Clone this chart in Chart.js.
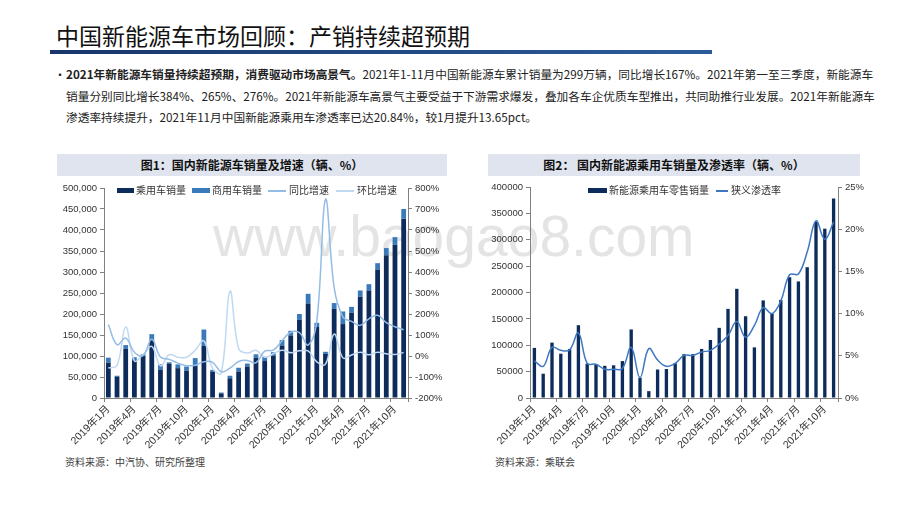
<!DOCTYPE html>
<html>
<head>
<meta charset="utf-8">
<script src="https://cdn.jsdelivr.net/npm/chart.js@4.4.1/dist/chart.umd.min.js"></script>
<style>
body{margin:0;width:920px;height:518px;background:#fff;position:relative;overflow:hidden;font-family:"Noto Sans CJK SC","Liberation Sans",sans-serif;}
.abs{position:absolute;white-space:nowrap;}
#title{left:56px;top:19px;font-size:23px;line-height:32px;color:#111;}
#rule{left:50px;top:50px;width:662px;height:4px;background:linear-gradient(90deg,#18366a,#2b5c9a);}
.para{left:66px;font-size:11.7px;line-height:16px;color:#222;}
#bullet{left:54px;top:66px;font-size:12px;color:#222;}
.head{top:154px;height:22px;line-height:22px;background:#dfe4ef;text-align:center;font-size:12px;font-weight:bold;color:#111;}
.src{top:454px;font-size:10px;color:#404040;}
#wm{left:213px;top:208px;font-family:"Liberation Sans",sans-serif;font-size:57px;line-height:57px;color:#e4e4e4;z-index:0;}
canvas{position:absolute;z-index:1;}
.leg{font-size:10px;color:#333;line-height:12px;z-index:2;}
.sw{position:absolute;z-index:2;}
</style>
</head>
<body>
<div id="title" class="abs">中国新能源车市场回顾：产销持续超预期</div>
<div id="rule" class="abs"></div>
<div id="bullet" class="abs">•</div>
<div class="abs para" style="top:66px"><b>2021年新能源车销量持续超预期，消费驱动市场高景气。</b>2021年1-11月中国新能源车累计销量为299万辆，同比增长167%。2021年第一至三季度，新能源车</div>
<div class="abs para" style="top:88px">销量分别同比增长384%、265%、276%。2021年新能源车高景气主要受益于下游需求爆发，叠加各车企优质车型推出，共同助推行业发展。2021年新能源车</div>
<div class="abs para" style="top:109px">渗透率持续提升，2021年11月中国新能源乘用车渗透率已达20.84%，较1月提升13.65pct。</div>

<div class="abs head" style="left:57px;width:390px">图1：国内新能源车销量及增速（辆、%）</div>
<div class="abs head" style="left:488px;width:372px">图2：&nbsp;国内新能源乘用车销量及渗透率（辆、%）</div>

<div id="wm" class="abs">www.baogao8.com</div>

<canvas id="c1" width="392" height="280" style="left:57px;top:178px;width:392px;height:280px"></canvas>
<canvas id="c2" width="380" height="280" style="left:487px;top:178px;width:380px;height:280px"></canvas>

<div class="sw" style="left:117px;top:188px;width:17px;height:5px;background:#0d2c5b"></div>
<div class="abs leg" style="left:136px;top:184px">乘用车销量</div>
<div class="sw" style="left:192px;top:188px;width:18px;height:5px;background:#3a79ba"></div>
<div class="abs leg" style="left:212px;top:184px">商用车销量</div>
<div class="sw" style="left:268px;top:190px;width:18px;height:1.5px;background:#94bde6"></div>
<div class="abs leg" style="left:289px;top:184px">同比增速</div>
<div class="sw" style="left:336px;top:190px;width:18px;height:1.5px;background:#c0d9f0"></div>
<div class="abs leg" style="left:357px;top:184px">环比增速</div>

<div class="sw" style="left:588px;top:188px;width:19px;height:5px;background:#0d2c5b"></div>
<div class="abs leg" style="left:609px;top:184px">新能源乘用车零售销量</div>
<div class="sw" style="left:716px;top:190px;width:12px;height:1.5px;background:#3e78c2"></div>
<div class="abs leg" style="left:731px;top:184px">狭义渗透率</div>

<div class="abs src" style="left:65px">资料来源：中汽协、研究所整理</div>
<div class="abs src" style="left:495px">资料来源：乘联会</div>

<script>
var months = [
  '2019年1月','2019年2月','2019年3月','2019年4月','2019年5月','2019年6月','2019年7月','2019年8月','2019年9月','2019年10月','2019年11月','2019年12月',
  '2020年1月','2020年2月','2020年3月','2020年4月','2020年5月','2020年6月','2020年7月','2020年8月','2020年9月','2020年10月','2020年11月','2020年12月',
  '2021年1月','2021年2月','2021年3月','2021年4月','2021年5月','2021年6月','2021年7月','2021年8月','2021年9月','2021年10月','2021年11月'
];

// 图1 (中汽协)
var passengerSales = [84000,50000,117000,90000,100000,138000,67000,81000,71000,65000,76000,124000,
  63000,11000,47000,63000,75000,96000,88000,101000,125000,149000,186000,225000,
  169000,105000,212000,176000,203000,241000,256000,306000,340000,365000,427000];
var commercialSales = [12000,3000,9000,7000,4000,14000,13000,4000,9000,10000,19000,39000,
  4000,2000,6000,9000,7000,8000,10000,8000,13000,11000,14000,23000,
  10000,5000,14000,30000,14000,15000,15000,15000,17000,18000,23000];
var yoyGrowth = [150,54,85,18,2,80,-5,-16,-34,-46,-44,-27,
  -30,-75,-58,-26,-21,-32,23,28,73,113,111,52,
  167,746,326,186,165,146,177,194,159,139,125];
var momGrowth = [-57,-45,138,-23,7,46,-47,6,-6,-6,27,72,
  -59,-81,308,36,14,27,-6,11,27,16,25,24,
  -28,-39,105,-9,5,18,6,18,11,7,17];

// 图2 (乘联会)
var retailSales = [95000,46000,105000,84000,93000,138000,65000,64000,61000,62000,70000,130000,
  38000,13000,54000,55000,66000,83000,83000,93000,110000,133000,169000,207000,
  155000,96000,185000,160000,186000,229000,221000,248000,334000,321000,378000];
var penetration = [4.4,3.75,6.0,5.65,5.7,7.7,4.1,4.0,3.4,3.4,3.5,6.0,
  2.4,5.85,4.5,3.75,4.1,5.05,5.05,5.45,5.65,6.4,7.4,9.05,
  7.19,8.6,10.7,10.0,11.5,14.6,14.7,17.3,21.0,18.8,20.84];

Chart.defaults.font.family = '"Liberation Sans","Noto Sans CJK SC",sans-serif';
Chart.defaults.font.size = 9.5;
Chart.defaults.color = '#333';

function xAxis(h) {
  return {
    stacked: true,
    afterFit: function(s) { s.height = h; },
    border: { display: true, color: '#808080' },
    grid: {
      display: true, drawOnChartArea: false, offset: true, tickLength: 4,
      color: function(c) { return (c.index === undefined || c.index % 3 === 0) ? '#808080' : 'rgba(0,0,0,0)'; }
    },
    ticks: {
      autoSkip: false, maxRotation: 45, minRotation: 45, padding: 1,
      font: { size: 10.5 },
      callback: function(v, i) { return i % 3 === 0 ? months[i] : ''; }
    }
  };
}

function sideAxis(pos, w, min, max, step, fmt) {
  return {
    position: pos, min: min, max: max,
    afterFit: function(s) { s.width = w; },
    border: { display: true, color: '#808080' },
    grid: { display: true, drawOnChartArea: false, tickLength: 4, color: '#808080' },
    ticks: { stepSize: step, padding: 3, callback: fmt }
  };
}

new Chart(document.getElementById('c1'), {
  type: 'bar',
  data: {
    labels: months,
    datasets: [
      { label: '乘用车销量', data: passengerSales, backgroundColor: '#0d2c5b', yAxisID: 'y', stack: 's', order: 2,
        barPercentage: 0.55, categoryPercentage: 1 },
      { label: '商用车销量', data: commercialSales, backgroundColor: '#3a79ba', yAxisID: 'y', stack: 's', order: 2,
        barPercentage: 0.55, categoryPercentage: 1 },
      { type: 'line', label: '同比增速', data: yoyGrowth, yAxisID: 'y1', borderColor: '#94bde6', borderWidth: 1.5,
        pointRadius: 0, tension: 0.4, order: 0 },
      { type: 'line', label: '环比增速', data: momGrowth, yAxisID: 'y1', borderColor: '#c0d9f0', borderWidth: 1.5,
        pointRadius: 0, tension: 0.4, order: 1 }
    ]
  },
  options: {
    responsive: false, animation: false,
    layout: { padding: { top: 10, left: 0, right: 0, bottom: 0 } },
    plugins: { legend: { display: false }, tooltip: { enabled: false } },
    scales: {
      x: xAxis(60),
      y: Object.assign(sideAxis('left', 47, 0, 500000, 50000, function(v) { return v.toLocaleString('en-US'); }), { stacked: true }),
      y1: Object.assign(sideAxis('right', 41, -200, 800, 100, function(v) { return v + '%'; }), { stacked: false })
    }
  }
});

new Chart(document.getElementById('c2'), {
  type: 'bar',
  data: {
    labels: months,
    datasets: [
      { label: '新能源乘用车零售销量', data: retailSales, backgroundColor: '#0d2c5b', yAxisID: 'y', order: 1,
        barPercentage: 0.38, categoryPercentage: 1 },
      { type: 'line', label: '狭义渗透率', data: penetration, yAxisID: 'y1', borderColor: '#3e78c2', borderWidth: 1.5,
        pointRadius: 0, tension: 0.4, order: 0 }
    ]
  },
  options: {
    responsive: false, animation: false,
    layout: { padding: { top: 9, left: 0, right: 0, bottom: 0 } },
    plugins: { legend: { display: false }, tooltip: { enabled: false } },
    scales: {
      x: xAxis(60),
      y: sideAxis('left', 43, 0, 400000, 50000, function(v) { return v; }),
      y1: sideAxis('right', 29, 0, 25, 5, function(v) { return v + '%'; })
    }
  }
});
</script>
</body>
</html>
